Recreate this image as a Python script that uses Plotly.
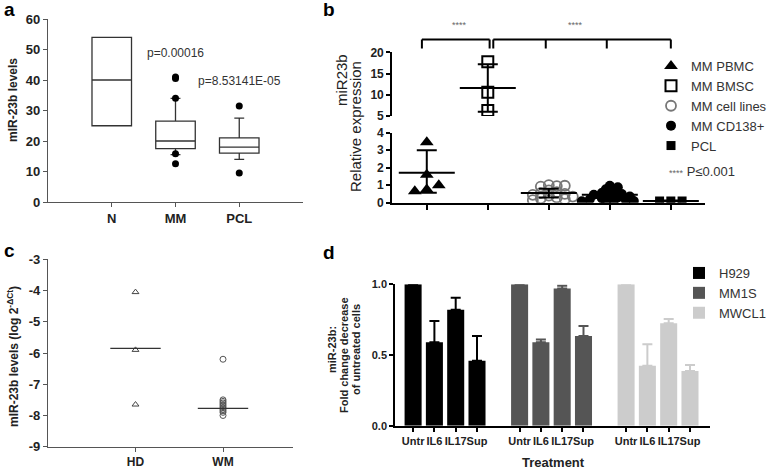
import plotly.graph_objects as go

# ---------------- data ----------------
# panel a (box summary)
a_groups = ["N", "MM", "PCL"]
a_q1 = [25, 17.5, 16]
a_median = [40, 20, 18]
a_q3 = [54, 26.5, 21]
a_low = [25, 15.5, 14]
a_high = [54, 34, 27.5]
a_out_mm = [41, 40.5, 34, 15.8, 12.5]
a_out_pcl = [31.5, 9.5]
a_pvals = ["p=0.00016", "p=8.53141E-05"]
a_pval_y = [48.5, 39.5]

# panel b
b_groups = ["MM PBMC", "MM BMSC", "MM cell lines", "MM CD138+", "PCL"]
b_pbmc = [3.45, 1.6, 0.75, 1.0, 0.65]
b_bmsc = [17.8, 10.6, 6.3]
b_cell = [1.0, 0.95, 0.92, 0.97, 0.7, 0.6, 0.55, 0.5, 0.45, 0.4, 0.35, 0.3, 0.25, 0.2, 0.15]
b_cd138 = [0.97, 0.88, 0.77, 0.6, 0.55, 0.5, 0.45, 0.4, 0.35, 0.3, 0.25, 0.2, 0.15, 0.12, 0.1, 0.08, 0.05]
b_pcl = [0.1, 0.1, 0.1]
b_mean = [1.71, 11.6, 0.55, 0.45, 0.1]
b_sd_plus = [1.29, 5.6, 0.25, 0.3, 0.02]
b_sd_minus = [1.14, 5.6, 0.25, 0.3, 0.02]

# panel c
c_groups = ["HD", "WM"]
c_hd = [-4.05, -5.9, -7.65]
c_wm = [-6.2, -7.5, -7.55, -7.6, -7.65, -7.7, -7.75, -7.8, -7.85, -7.9, -8.0]
c_median = [-5.85, -7.77]
c_ticks = [-3, -4, -5, -6, -7, -8, -9]

# panel d
d_treat = ["Untr", "IL6", "IL17", "Sup"]
d_lines = ["H929", "MM1S", "MWCL1"]
d_vals = {
    "H929": [1.0, 0.59, 0.82, 0.46],
    "MM1S": [1.0, 0.59, 0.97, 0.634],
    "MWCL1": [1.0, 0.424, 0.724, 0.387],
}
d_top = {
    "H929": [1.0, 0.74, 0.905, 0.635],
    "MM1S": [1.0, 0.61, 0.99, 0.705],
    "MWCL1": [1.0, 0.576, 0.755, 0.43],
}
d_colors = {"H929": "#000000", "MM1S": "#555555", "MWCL1": "#cccccc"}

# ---------------- helpers ----------------
W, H = 776, 469
def px(x): return x / W
def py(y): return 1 - y / H

FONT = "Liberation Sans, Arial, sans-serif"
BOLD = dict(family=FONT, size=12, color="#222", weight="bold")

def swarm(vals, ypx, xpx, size, k=0.75, stepf=0.5):
    placed, offs = [], []
    step = size * stepf
    cands = [0.0]
    for i in range(1, 40):
        cands += [i * step, -i * step]
    for v in vals:
        yp = v * ypx
        for c in cands:
            if all((c - a) ** 2 + (yp - b) ** 2 >= (size * k) ** 2 for a, b in placed):
                break
        placed.append((c, yp))
        offs.append(c / xpx)
    return offs

fig = go.Figure()

# ---------------- panel a ----------------
fig.add_trace(go.Box(
    x=a_groups, q1=a_q1, median=a_median, q3=a_q3, lowerfence=a_low, upperfence=a_high,
    xaxis="x", yaxis="y", width=0.62, whiskerwidth=0.25, fillcolor="white",
    line=dict(color="#333", width=1.3), boxpoints=False, showlegend=False))
fig.add_trace(go.Scatter(
    x=["MM"] * len(a_out_mm) + ["PCL"] * len(a_out_pcl), y=a_out_mm + a_out_pcl,
    mode="markers", marker=dict(color="black", size=7), xaxis="x", yaxis="y", showlegend=False))
fig.add_trace(go.Scatter(
    x=["MM", "PCL"], y=a_pval_y, text=a_pvals, mode="text",
    textfont=dict(family=FONT, size=12, color="#333"), xaxis="x", yaxis="y", showlegend=False))

# ---------------- panel b ----------------
XPX = 61.0
LOWPX = 17.5
UPPX = 4.25
sym = {
    "MM PBMC": dict(symbol="triangle-up", color="black", size=12, line=dict(width=0)),
    "MM BMSC": dict(symbol="square-open", color="black", size=11, line=dict(width=2)),
    "MM cell lines": dict(symbol="circle-open", color="#777", size=10, line=dict(width=1.8)),
    "MM CD138+": dict(symbol="circle", color="black", size=10, line=dict(width=0)),
    "PCL": dict(symbol="square", color="black", size=9, line=dict(width=0)),
}
b_data = [b_pbmc, b_bmsc, b_cell, b_cd138, b_pcl]
for i, (name, vals) in enumerate(zip(b_groups, b_data)):
    upper = name == "MM BMSC"
    m = sym[name]
    if upper:
        offs = swarm(vals, UPPX, XPX, m["size"], k=1.0)
    elif name == "PCL":
        offs = swarm(vals, LOWPX, XPX, m["size"] * 1.25, k=1.0)
    elif name == "MM PBMC":
        offs = swarm(vals, LOWPX, XPX, m["size"], k=0.8)
    else:
        offs = swarm(vals, LOWPX, XPX, m["size"], k=0.5, stepf=0.4)
    fig.add_trace(go.Scatter(
        x=[i + o for o in offs], y=vals, mode="markers", name=name,
        marker=m, xaxis="x2", yaxis="y3" if upper else "y2", legend="legend"))
    fig.add_trace(go.Scatter(
        x=[i], y=[b_mean[i]], mode="markers", showlegend=False,
        marker=dict(symbol="line-ew", size=40, line=dict(width=2, color="black")),
        error_y=dict(type="data", symmetric=False, array=[b_sd_plus[i]], arrayminus=[b_sd_minus[i]],
                     width=10, thickness=2, color="black"),
        xaxis="x2", yaxis="y3" if upper else "y2"))

# ---------------- panel c ----------------
fig.add_trace(go.Scatter(x=["HD"] * len(c_hd), y=c_hd, mode="markers",
                         marker=dict(symbol="triangle-up-open", size=6, color="#444", line=dict(width=1)),
                         xaxis="x3", yaxis="y4", showlegend=False))
fig.add_trace(go.Scatter(x=["WM"] * len(c_wm), y=c_wm, mode="markers",
                         marker=dict(symbol="circle-open", size=6, color="#555", line=dict(width=1)),
                         xaxis="x3", yaxis="y4", showlegend=False))
fig.add_trace(go.Scatter(x=c_groups, y=c_median, mode="markers",
                         marker=dict(symbol="line-ew", size=36, line=dict(width=1.3, color="#333")),
                         xaxis="x3", yaxis="y4", showlegend=False))

# ---------------- panel d ----------------
d_pos, d_text = [], []
for g, line in enumerate(d_lines):
    xs = [g * 5 + j for j in range(len(d_treat))]
    d_pos += xs
    d_text += d_treat
    fig.add_trace(go.Bar(
        x=xs, y=d_vals[line], name=line, width=0.8,
        marker=dict(color=d_colors[line], line=dict(width=0)),
        error_y=dict(type="data", symmetric=False,
                     array=[t - v for t, v in zip(d_top[line], d_vals[line])],
                     arrayminus=[0] * len(d_treat), width=5, thickness=2, color=d_colors[line]),
        xaxis="x4", yaxis="y5", legend="legend2"))

# ---------------- layout ----------------
def ax(**kw):
    base = dict(showgrid=False, zeroline=False, showline=True, ticks="outside", ticklen=4,
                tickfont=BOLD, fixedrange=True, automargin=False)
    base.update(kw)
    return base

shapes = []
BL = dict(color="black", width=2)
br_top, br_bot = py(39.5), py(48.5)
shapes += [
    dict(type="line", xref="x2", yref="paper", x0=-0.08, x1=1.03, y0=br_top, y1=br_top, line=BL),
    dict(type="line", xref="x2", yref="paper", x0=-0.08, x1=-0.08, y0=br_top, y1=br_bot, line=BL),
    dict(type="line", xref="x2", yref="paper", x0=1.03, x1=1.03, y0=br_top, y1=br_bot, line=BL),
    dict(type="line", xref="x2", yref="paper", x0=1.09, x1=4.0, y0=br_top, y1=br_top, line=BL),
    dict(type="line", xref="x2", yref="paper", x0=1.09, x1=1.09, y0=br_top, y1=br_bot, line=BL),
]
for k in (2, 3, 4):
    xk = k - 0.05 if k < 4 else 4.0
    shapes.append(dict(type="line", xref="x2", yref="paper", x0=xk, x1=xk,
                       y0=br_top, y1=br_bot, line=BL))

ann = []
def label(t, x, y):
    ann.append(dict(text=t, x=px(x), y=py(y), xref="paper", yref="paper", showarrow=False,
                    xanchor="center", yanchor="middle",
                    font=dict(family=FONT, size=19, color="black", weight="bold")))
label("a", 9, 10)
label("b", 329, 10)
label("c", 9, 250)
label("d", 329, 252)

def vtitle(t, x, y, size=12, bold=True, color="#222"):
    f = dict(family=FONT, size=size, color=color)
    if bold:
        f["weight"] = "bold"
    ann.append(dict(text=t, x=px(x), y=py(y), xref="paper", yref="paper", showarrow=False,
                    xanchor="center", yanchor="middle", textangle=-90, font=f))
vtitle("mIR-23b levels", 13, 100)
vtitle("miR23b", 342, 80, size=15, bold=False)
vtitle("Relative expression", 355, 127, size=15, bold=False)
vtitle("mIR-23b levels (log 2<sup>-ΔCt</sup>)", 13, 357)
vtitle("miR-23b:", 332, 350, size=11)
vtitle("Fold change decrease", 344, 355, size=11)
vtitle("of untreated cells", 356, 350, size=11)

for xs in (0.54, 2.43):
    ann.append(dict(text="****", x=xs, y=py(25), xref="x2", yref="paper", showarrow=False,
                    xanchor="center", yanchor="middle",
                    font=dict(family=FONT, size=9, color="#666")))
ann.append(dict(text="<span style='font-size:9px;color:#666'>****</span> P≤0.001", x=px(667), y=py(171),
                xref="paper", yref="paper", xanchor="left", yanchor="middle", showarrow=False,
                font=dict(family=FONT, size=13, color="#333")))
ann.append(dict(text="Treatment", x=px(553), y=py(462), xref="paper", yref="paper", showarrow=False,
                xanchor="center", yanchor="middle",
                font=dict(family=FONT, size=13, color="#222", weight="bold")))

fig.update_layout(
    width=W, height=H, margin=dict(l=0, r=0, t=0, b=0, autoexpand=False),
    paper_bgcolor="white", plot_bgcolor="white",
    font=dict(family=FONT, color="#222"),
    barmode="overlay",
    xaxis=ax(domain=[px(48), px(303)], anchor="y", type="category", range=[-1, 3],
             linecolor="#555", linewidth=1.3, tickcolor="#555", tickfont=dict(BOLD, size=13)),
    yaxis=ax(domain=[py(202), py(19)], anchor="x", range=[0, 60], dtick=10,
             linecolor="#555", linewidth=1.3, tickcolor="#555", tickfont=dict(BOLD, size=13)),
    xaxis2=ax(domain=[px(392), px(705)], anchor="y2", range=[-0.57, 4.56],
              tickvals=list(range(len(b_groups))), showticklabels=False,
              linecolor="black", linewidth=1.6, tickcolor="black", tickwidth=1.5, ticklen=5),
    yaxis2=ax(domain=[py(202.7), py(132.7)], anchor="x2", range=[0, 4], dtick=1,
              linecolor="black", linewidth=1.6, tickcolor="black", tickwidth=1.5),
    yaxis3=ax(domain=[py(116), py(52.3)], anchor="x2", range=[5, 20], tickvals=[5, 10, 15, 20],
              linecolor="black", linewidth=1.6, tickcolor="black", tickwidth=1.5),
    xaxis3=ax(domain=[px(48), px(293)], anchor="y4", type="category", range=[-1, 1.8],
              linecolor="#555", linewidth=1.3, tickcolor="#555", tickfont=dict(BOLD, size=12)),
    yaxis4=ax(domain=[py(446.7), py(259.3)], anchor="x3", range=[-9, -3],
              tickvals=c_ticks, ticktext=[str(v) for v in c_ticks],
              linecolor="#555", linewidth=1.3, tickcolor="#555", tickfont=dict(BOLD, size=13)),
    xaxis4=ax(domain=[px(395), px(710)], anchor="y5", range=[-0.85, 13.94], tickangle=0,
              tickvals=d_pos, ticktext=d_text, linecolor="black", linewidth=1.6,
              tickcolor="black", tickwidth=1.5, tickfont=dict(BOLD, size=11)),
    yaxis5=ax(domain=[py(425.7), py(284.3)], anchor="x4", range=[0, 1],
              tickvals=[0, 0.5, 1.0], ticktext=["0.0", "0.5", "1.0"],
              linecolor="black", linewidth=1.6, tickcolor="black", tickwidth=1.5,
              tickfont=dict(BOLD, size=11)),
    legend=dict(x=px(651), y=py(51), xanchor="left", yanchor="top", bgcolor="rgba(0,0,0,0)",
                font=dict(family=FONT, size=13, color="#333"), tracegroupgap=0),
    legend2=dict(x=px(679), y=py(258), xanchor="left", yanchor="top", bgcolor="rgba(0,0,0,0)",
                 font=dict(family=FONT, size=13, color="#333"), tracegroupgap=0),
    shapes=shapes, annotations=ann,
)

fig.write_html("out.html", config={"displayModeBar": False},
               post_script="document.body.style.margin='0px';")
